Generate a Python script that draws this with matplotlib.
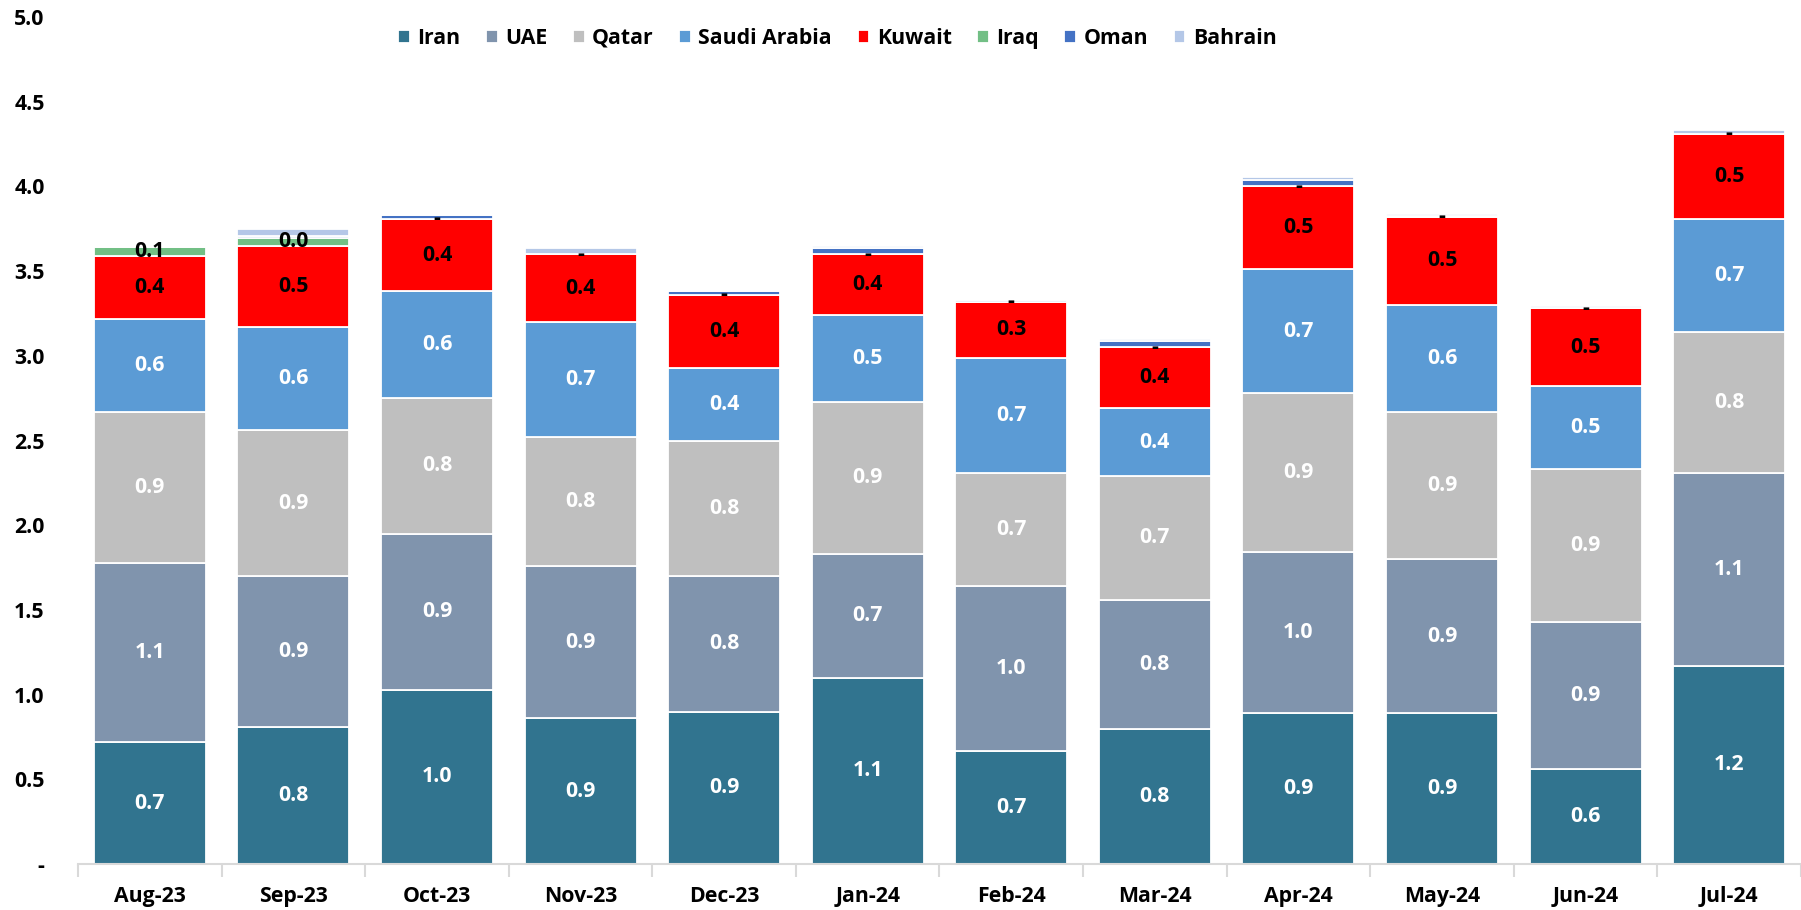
import numpy as np
from matplotlib import pyplot as plt

# Dati
months = ['Aug-23', 'Sep-23', 'Oct-23', 'Nov-23', 'Dec-23', 'Jan-24',
          'Feb-24', 'Mar-24', 'Apr-24', 'May-24', 'Jun-24', 'Jul-24']
iran = [0.72, 0.81, 1.03, 0.86, 0.90, 1.10, 0.67, 0.80, 0.89, 0.89, 0.56, 1.17]
uae = [1.06, 0.89, 0.92, 0.90, 0.80, 0.73, 0.97, 0.76, 0.95, 0.91, 0.87, 1.14]
qatar = [0.89, 0.86, 0.80, 0.76, 0.80, 0.90, 0.67, 0.73, 0.94, 0.87, 0.90, 0.83]
saudi = [0.55, 0.61, 0.63, 0.68, 0.43, 0.51, 0.68, 0.40, 0.73, 0.63, 0.49, 0.67]
kuwait = [0.37, 0.48, 0.43, 0.40, 0.43, 0.36, 0.33, 0.36, 0.49, 0.52, 0.46, 0.50]
iraq = [0.055, 0.045, 0, 0, 0, 0, 0, 0, 0, 0, 0, 0]
oman = [0, 0.015, 0.02, 0, 0.025, 0.035, 0.01, 0.035, 0.035, 0.005, 0, 0]
bahrain = [0, 0.04, 0.005, 0.035, 0.005, 0.015, 0.005, 0.015, 0.02, 0.01, 0.015, 0.025]

series = [
    ('Iran', iran, '#31748F', 'white'),
    ('UAE', uae, '#8094AD', 'white'),
    ('Qatar', qatar, '#BFBFBF', 'white'),
    ('Saudi Arabia', saudi, '#5B9BD5', 'white'),
    ('Kuwait', kuwait, '#FF0000', 'black'),
    ('Iraq', iraq, '#72BF85', 'black'),
    ('Oman', oman, '#4472C4', None),
    ('Bahrain', bahrain, '#B4C7E7', None),
]

plt.rcParams['font.family'] = ['Open Sans', 'DejaVu Sans']
plt.rcParams['font.weight'] = 'bold'
fs = 15.3


def fmt(v):
    if v == 0:
        return '-'
    return f'{round(v, 1):.1f}'


fig = plt.figure(figsize=(18.01, 9.10), dpi=100)
ax = fig.add_axes([0.0433, 0.0505, 0.9567, 0.9308])

x = np.arange(len(months))
bottom = np.zeros(len(months))
for name, vals, color, tcol in series:
    vals = np.array(vals)
    ax.bar(x, vals, 0.78, bottom=bottom, color=color,
           edgecolor='white', linewidth=1.3, label=name)
    if tcol is not None:
        for xi, b, v in zip(x, bottom, vals):
            ax.text(xi, b + v / 2, fmt(v), ha='center', va='center',
                    color=tcol, fontsize=fs, fontweight='bold')
    bottom += vals

ax.set_xlim(-0.5, 11.36)
ax.set_ylim(0, 5)
yt = np.arange(0, 5.01, 0.5)
ax.set_yticks(yt)
ax.set_yticklabels(['-' if t == 0 else f'{t:.1f}' for t in yt])
ax.set_xticks(x)
ax.set_xticklabels(months)
ax.set_xticks(np.arange(-0.5, 11.6, 1), minor=True)
ax.tick_params(axis='x', which='major', length=0, pad=16, labelsize=fs)
ax.tick_params(axis='x', which='minor', length=9, width=1.5, color='#D9D9D9')
ax.tick_params(axis='y', length=0, pad=24, labelsize=fs)

for s in ['top', 'right', 'left']:
    ax.spines[s].set_visible(False)
ax.spines['bottom'].set_color('#D9D9D9')
ax.spines['bottom'].set_linewidth(1.5)

handles, labels = ax.get_legend_handles_labels()
fig.legend(handles, labels, loc='center', bbox_to_anchor=(0.465, 0.958),
           ncol=8, frameon=False, fontsize=fs, handlelength=0.55,
           handleheight=0.55, handletextpad=0.35, columnspacing=1.2,
           borderaxespad=0)

plt.savefig('out.png', dpi=100)
